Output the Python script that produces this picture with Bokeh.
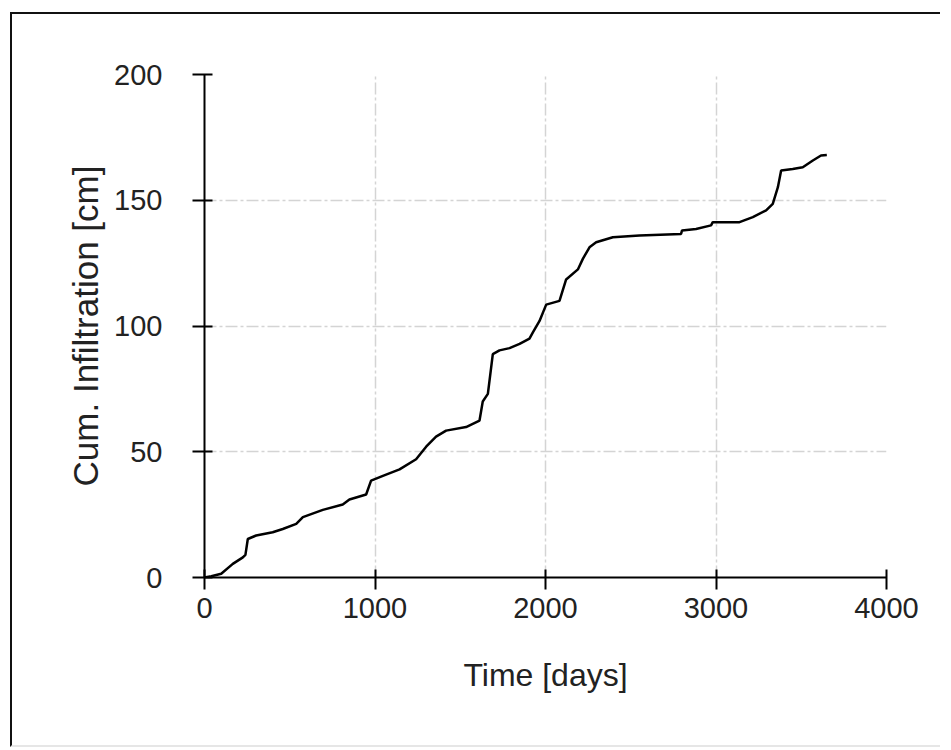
from bokeh.plotting import figure
from bokeh.models import Range1d, FixedTicker
from bokeh.embed import file_html
from bokeh.resources import INLINE

# Data
time_days = [0, 40, 98, 166, 225, 240, 254, 303, 400, 459, 538, 577, 694, 811, 850,
             948, 977, 1050, 1144, 1241, 1300, 1358, 1417, 1534, 1613, 1632, 1662,
             1691, 1730, 1789, 1848, 1906, 1926, 1965, 2004, 2082, 2121, 2190, 2219,
             2258, 2297, 2395, 2551, 2795, 2801, 2883, 2971, 2981, 3138, 3216, 3294,
             3333, 3363, 3382, 3450, 3509, 3568, 3616, 3650]
cum_infiltration = [0, 0.5, 1.5, 5.4, 8, 9, 15.3, 16.7, 18, 19.3, 21.3, 24, 26.9, 29, 31,
                    33, 38.5, 40.5, 43, 47, 52, 56, 58.4, 59.8, 62.4, 70, 73,
                    88.8, 90.3, 91.2, 92.9, 95, 97.5, 102, 108.5, 110, 118.5, 122.5, 126.7,
                    131.3, 133.3, 135.3, 136, 136.6, 138, 138.6, 140, 141.3, 141.3, 143.3, 146,
                    148.6, 155.2, 161.8, 162.4, 163.1, 165.8, 167.8, 168]
x_ticks = [0, 1000, 2000, 3000, 4000]
y_ticks = [0, 50, 100, 150, 200]

FONT = "Liberation Sans"

p = figure(width=930, height=735, output_backend="svg", toolbar_location=None,
           x_range=Range1d(0, 4000), y_range=Range1d(0, 200),
           min_border_left=192, min_border_top=60, min_border_right=56,
           min_border_bottom=172)
p.styles = {"border-left": "2px solid #111", "border-top": "2px solid #111",
            "border-bottom": "2px solid #e6e6e6", "margin-left": "10px", "margin-top": "12px"}
p.outline_line_color = None
p.background_fill_color = "white"
p.border_fill_color = "white"

p.line(time_days, cum_infiltration, line_color="black", line_width=2.5)

for ax in (p.xaxis, p.yaxis):
    ax.axis_line_color = "black"
    ax.axis_line_width = 2
    ax.major_tick_line_color = "black"
    ax.major_tick_line_width = 2
    ax.major_tick_out = 12
    ax.major_tick_in = 8
    ax.minor_tick_line_color = None
    ax.major_label_text_font = FONT
    ax.major_label_text_font_size = "29px"
    ax.major_label_text_color = "#222222"
    ax.axis_label_text_font = FONT
    ax.axis_label_text_font_style = "normal"
    ax.axis_label_text_color = "#222222"

p.xaxis.axis_label_text_font_size = "32px"
p.yaxis.axis_label_text_font_size = "35px"
p.xaxis.ticker = FixedTicker(ticks=x_ticks)
p.yaxis.ticker = FixedTicker(ticks=y_ticks)
p.xaxis.axis_label = "Time [days]"
p.yaxis.axis_label = "Cum. Infiltration [cm]"
p.xaxis.major_label_standoff = 8
p.yaxis.major_label_standoff = 30
p.xaxis.axis_label_standoff = 36
p.yaxis.axis_label_standoff = 6

for g in (p.xgrid, p.ygrid):
    g.grid_line_color = "#d4d4d4"
    g.grid_line_width = 1.5
    g.grid_line_dash = "12 3 3 3"

open("out.html", "w").write(file_html(p, INLINE))
